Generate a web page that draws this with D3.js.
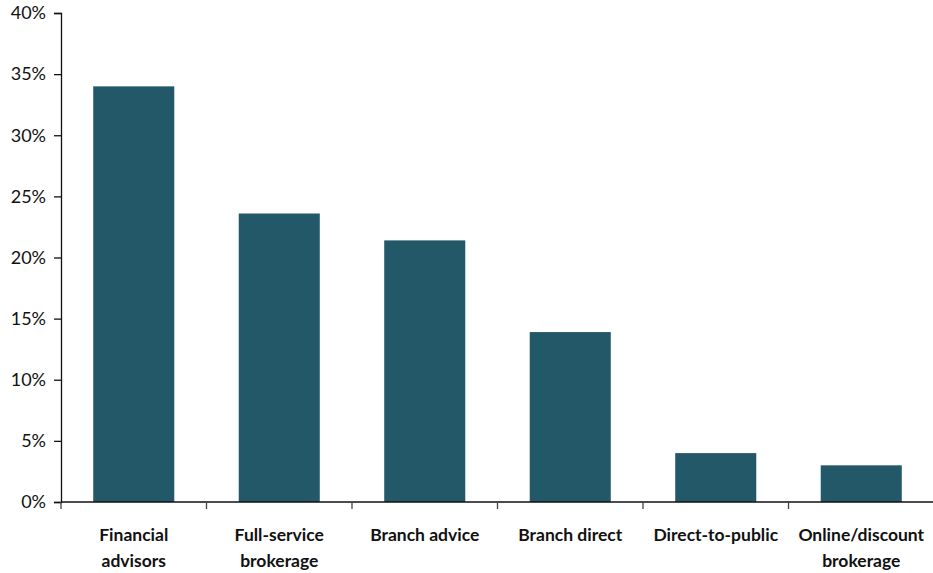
<!DOCTYPE html>
<html>
<head>
<meta charset="utf-8">
<script src="https://cdn.jsdelivr.net/npm/d3@7"></script>
<style>
  html, body { margin: 0; padding: 0; background: #fff; }
  svg { display: block; }
  .tick text { font-family: Lato, "Open Sans", sans-serif; }
</style>
</head>
<body>
<svg id="chart" width="933" height="573"></svg>
<script>
// Share of assets by distribution channel
const categories = [
  ["Financial", "advisors"],
  ["Full-service", "brokerage"],
  ["Branch advice"],
  ["Branch direct"],
  ["Direct-to-public"],
  ["Online/discount", "brokerage"]
];
const values = [34.0, 23.6, 21.4, 13.9, 4.0, 3.0];
const yTicks = [0, 5, 10, 15, 20, 25, 30, 35, 40];

const svg = d3.select("#chart");
const margin = { left: 61, right: 0, top: 13, bottom: 71 };

const keys = categories.map(c => c.join(" "));
const x = d3.scaleBand()
  .domain(keys)
  .range([margin.left, 934])
  .paddingInner(0.443)
  .paddingOuter(0.2215);

const y = d3.scaleLinear()
  .domain([0, 40])
  .range([502, 13]);

// bars
svg.append("g")
  .selectAll("rect")
  .data(values)
  .join("rect")
  .attr("x", (d, i) => x(keys[i]))
  .attr("y", d => y(d))
  .attr("width", x.bandwidth())
  .attr("height", d => y(0) - y(d))
  .attr("fill", "#225868");

// y axis
const yAxis = svg.append("g")
  .attr("transform", `translate(${margin.left},0)`)
  .call(d3.axisLeft(y).tickValues(yTicks).tickFormat(d => d + "%").tickSize(7).tickPadding(8));
yAxis.select(".domain").attr("stroke", "#111").attr("stroke-width", 1.3);
yAxis.selectAll(".tick line").attr("stroke", "#111").attr("stroke-width", 1.3);
yAxis.selectAll(".tick text")
  .attr("font-size", 18)
  .attr("fill", "#111");

// x axis with ticks at category boundaries
const step = x.step();
const boundaries = d3.range(keys.length + 1).map(i => margin.left + i * step);
const xg = svg.append("g");
xg.append("line")
  .attr("x1", margin.left).attr("x2", 934)
  .attr("y1", y(0)).attr("y2", y(0))
  .attr("stroke", "#111").attr("stroke-width", 1.3);
xg.selectAll(".bt")
  .data(boundaries)
  .join("line")
  .attr("class", "bt")
  .attr("x1", d => d).attr("x2", d => d)
  .attr("y1", y(0)).attr("y2", y(0) + 7)
  .attr("stroke", "#444").attr("stroke-width", 1.3);

// category labels
const labels = svg.append("g")
  .attr("font-family", "Lato, 'Open Sans', sans-serif")
  .attr("font-size", 17.5)
  .attr("font-weight", "bold")
  .attr("fill", "#111")
  .attr("text-anchor", "middle");
categories.forEach((lines, i) => {
  const cx = x(keys[i]) + x.bandwidth() / 2;
  const t = labels.append("text").attr("x", cx).attr("y", 541);
  lines.forEach((ln, j) => {
    t.append("tspan").attr("x", cx).attr("dy", j === 0 ? 0 : 26).text(ln);
  });
});
</script>
</body>
</html>
